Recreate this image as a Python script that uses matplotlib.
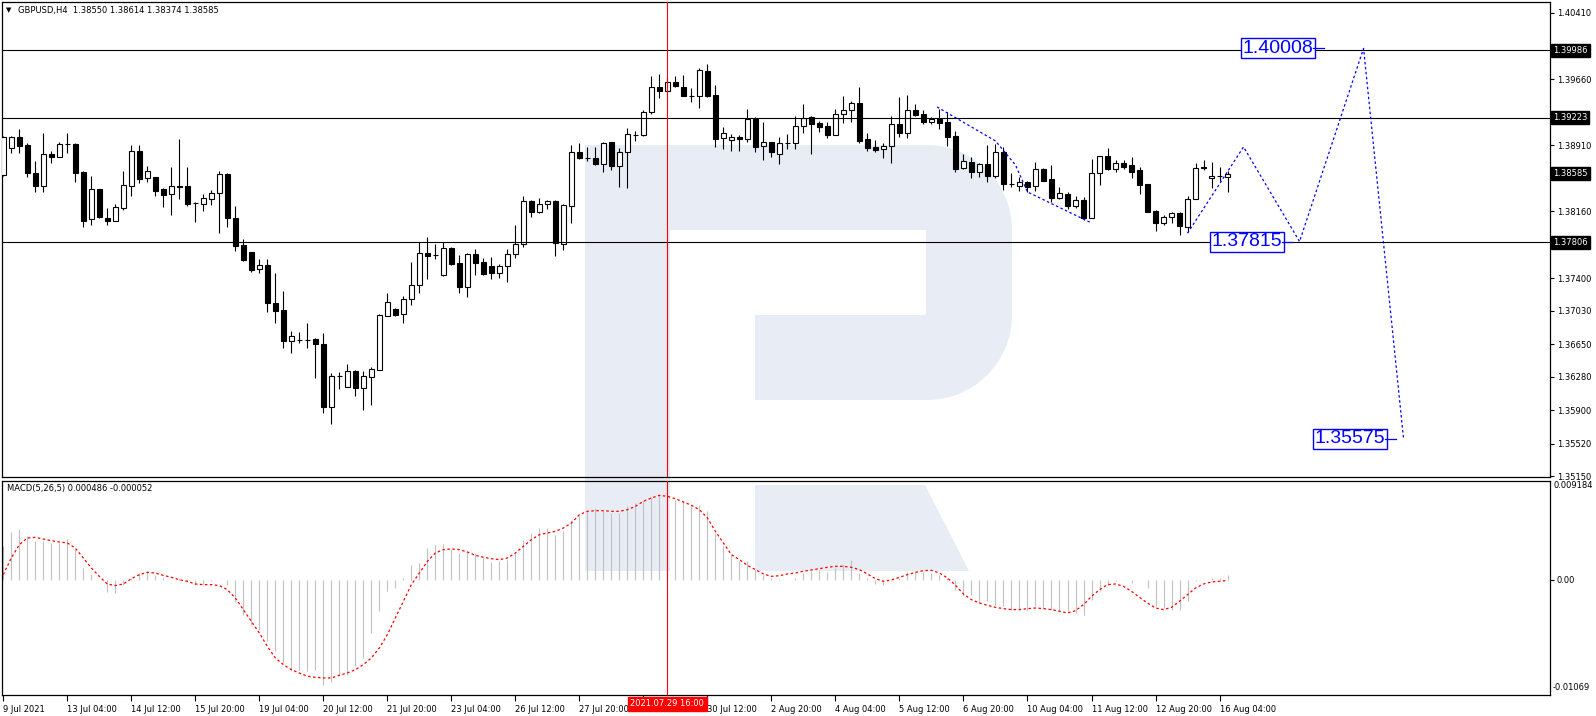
import numpy as np
import matplotlib
matplotlib.use("Agg")
import matplotlib.pyplot as plt
import matplotlib.patches as mpatches
from matplotlib.transforms import blended_transform_factory

plt.rcParams['font.family'] = ['DejaVu Sans']

# ---------------- data ----------------
symbol = "GBPUSD,H4"
header_ohlc = ["1.38550", "1.38614", "1.38374", "1.38585"]
macd_title = "MACD(5,26,5) 0.000486 -0.000052"

opens = [1.38571, 1.38874, 1.38999, 1.38911, 1.38590, 1.38449, 1.38806, 1.38772, 1.38923, 1.38923,
         1.38605, 1.38068, 1.38408, 1.38083, 1.38052, 1.38200, 1.38449, 1.38843, 1.38533, 1.38545,
         1.38412, 1.38352, 1.38442, 1.38442, 1.38250, 1.38238, 1.38302, 1.38363, 1.38582, 1.38079,
         1.37776, 1.37693, 1.37500, 1.37549, 1.37118, 1.37035, 1.36690, 1.36701, 1.36703, 1.36709,
         1.36649, 1.35934, 1.36293, 1.36168, 1.36346, 1.36150, 1.36282, 1.36357, 1.36974, 1.37050,
         1.36990, 1.37160, 1.37322, 1.37682, 1.37659, 1.37436, 1.37739, 1.37569, 1.37303, 1.37671,
         1.37580, 1.37538, 1.37462, 1.37538, 1.37671, 1.37784, 1.38276, 1.38154, 1.38238, 1.38276,
         1.37784, 1.38222, 1.38835, 1.38767, 1.38760, 1.38692, 1.38942, 1.38676, 1.38835, 1.39025,
         1.39025, 1.39282, 1.39573, 1.39528, 1.39630, 1.39573, 1.39471, 1.39471, 1.39751, 1.39479,
         1.38987, 1.38965, 1.39002, 1.38976, 1.39203, 1.38896, 1.38942, 1.38806, 1.38937, 1.38937,
         1.39123, 1.39229, 1.39161, 1.39127, 1.39021, 1.39260, 1.39308, 1.39385, 1.38976, 1.38889,
         1.38862, 1.38896, 1.39146, 1.39044, 1.39308, 1.39260, 1.39176, 1.39206, 1.39176, 1.39013,
         1.38647, 1.38715, 1.38601, 1.38692, 1.38563, 1.38828, 1.38465, 1.38446, 1.38495, 1.38446,
         1.38635, 1.38525, 1.38313, 1.38352, 1.38222, 1.38284, 1.38086, 1.38590, 1.38783, 1.38635,
         1.38704, 1.38684, 1.38627, 1.38469, 1.38162, 1.38029, 1.38097, 1.38136, 1.37984, 1.38295,
         1.38665, 1.38533, 1.38563, 1.38550]
highs = [1.39013, 1.39013, 1.39089, 1.38931, 1.38730, 1.39044, 1.38843, 1.38942, 1.39044, 1.38931,
         1.38613, 1.38559, 1.38408, 1.38193, 1.38238, 1.38616, 1.38911, 1.38911, 1.38673, 1.38545,
         1.38420, 1.38662, 1.38979, 1.38662, 1.38261, 1.38352, 1.38400, 1.38616, 1.38597, 1.38219,
         1.37841, 1.37700, 1.37614, 1.37614, 1.37458, 1.37254, 1.36800, 1.36785, 1.36891, 1.36717,
         1.36774, 1.36320, 1.36331, 1.36422, 1.36357, 1.36346, 1.36388, 1.36990, 1.37231, 1.37058,
         1.37201, 1.37587, 1.37807, 1.37867, 1.37784, 1.37807, 1.37750, 1.37663, 1.37682, 1.37731,
         1.37625, 1.37637, 1.37557, 1.37731, 1.38003, 1.38332, 1.38287, 1.38306, 1.38284, 1.38284,
         1.38242, 1.38911, 1.38931, 1.38885, 1.38885, 1.38942, 1.38942, 1.38881, 1.39101, 1.39074,
         1.39308, 1.39694, 1.39717, 1.39686, 1.39694, 1.39706, 1.39555, 1.39782, 1.39831, 1.39592,
         1.39116, 1.39033, 1.39025, 1.39320, 1.39232, 1.39169, 1.38942, 1.38999, 1.39033, 1.39240,
         1.39373, 1.39240, 1.39187, 1.39169, 1.39316, 1.39467, 1.39411, 1.39570, 1.39044, 1.38968,
         1.38931, 1.39240, 1.39456, 1.39479, 1.39377, 1.39308, 1.39232, 1.39316, 1.39289, 1.39070,
         1.38809, 1.38772, 1.38704, 1.38911, 1.38919, 1.38889, 1.38590, 1.38551, 1.38503, 1.38718,
         1.38647, 1.38684, 1.38431, 1.38374, 1.38329, 1.38324, 1.38752, 1.38783, 1.38874, 1.38741,
         1.38738, 1.38772, 1.38658, 1.38469, 1.38173, 1.38117, 1.38154, 1.38154, 1.38332, 1.38710,
         1.38741, 1.38715, 1.38658, 1.38614]
lows = [1.38559, 1.38824, 1.38824, 1.38551, 1.38381, 1.38381, 1.38710, 1.38772, 1.38817, 1.38495,
        1.37984, 1.38003, 1.38079, 1.38003, 1.38052, 1.38173, 1.38336, 1.38477, 1.38495, 1.38336,
        1.38211, 1.38117, 1.38295, 1.38219, 1.38041, 1.38166, 1.38230, 1.37909, 1.37984, 1.37712,
        1.37598, 1.37473, 1.37462, 1.37019, 1.36887, 1.36611, 1.36547, 1.36661, 1.36604, 1.36263,
        1.35866, 1.35741, 1.36138, 1.36168, 1.36066, 1.35903, 1.35960, 1.36357, 1.36974, 1.36970,
        1.36894, 1.37095, 1.37235, 1.37390, 1.37617, 1.37428, 1.37549, 1.37235, 1.37190, 1.37436,
        1.37436, 1.37390, 1.37405, 1.37360, 1.37632, 1.37757, 1.38097, 1.38143, 1.38181, 1.37655,
        1.37719, 1.38029, 1.38749, 1.38730, 1.38684, 1.38608, 1.38627, 1.38438, 1.38420, 1.38957,
        1.39013, 1.39260, 1.39448, 1.39528, 1.39573, 1.39471, 1.39403, 1.39328, 1.39459, 1.38892,
        1.38866, 1.38847, 1.38847, 1.38949, 1.38835, 1.38741, 1.38778, 1.38699, 1.38862, 1.38862,
        1.39051, 1.38809, 1.39062, 1.38994, 1.39021, 1.39164, 1.39176, 1.38931, 1.38847, 1.38835,
        1.38767, 1.38710, 1.39005, 1.38987, 1.39240, 1.39153, 1.39146, 1.39089, 1.38903, 1.38601,
        1.38635, 1.38540, 1.38551, 1.38495, 1.38540, 1.38401, 1.38438, 1.38389, 1.38374, 1.38389,
        1.38503, 1.38268, 1.38298, 1.38181, 1.38193, 1.38060, 1.38079, 1.38457, 1.38624, 1.38608,
        1.38635, 1.38540, 1.38355, 1.38154, 1.37935, 1.38003, 1.38029, 1.37890, 1.37927, 1.38295,
        1.38627, 1.38420, 1.38506, 1.38374]
closes = [1.38999, 1.38999, 1.38903, 1.38590, 1.38449, 1.38809, 1.38772, 1.38919, 1.38925, 1.38597,
          1.38052, 1.38408, 1.38097, 1.38052, 1.38204, 1.38454, 1.38843, 1.38525, 1.38616, 1.38393,
          1.38347, 1.38442, 1.38440, 1.38245, 1.38248, 1.38306, 1.38363, 1.38579, 1.38079, 1.37768,
          1.37606, 1.37492, 1.37549, 1.37115, 1.37031, 1.36690, 1.36747, 1.36703, 1.36701, 1.36649,
          1.35941, 1.36293, 1.36290, 1.36346, 1.36150, 1.36289, 1.36369, 1.36982, 1.37126, 1.36982,
          1.37163, 1.37322, 1.37682, 1.37655, 1.37657, 1.37739, 1.37561, 1.37303, 1.37671, 1.37575,
          1.37447, 1.37462, 1.37538, 1.37671, 1.37784, 1.38276, 1.38154, 1.38238, 1.38276, 1.37796,
          1.38230, 1.38835, 1.38767, 1.38765, 1.38692, 1.38931, 1.38676, 1.38835, 1.39033, 1.39027,
          1.39282, 1.39573, 1.39528, 1.39630, 1.39584, 1.39471, 1.39469, 1.39759, 1.39464, 1.38976,
          1.39044, 1.39002, 1.38976, 1.39203, 1.38892, 1.38942, 1.38835, 1.38931, 1.38939, 1.39127,
          1.39214, 1.39153, 1.39119, 1.39021, 1.39260, 1.39308, 1.39385, 1.38960, 1.38881, 1.38858,
          1.38900, 1.39146, 1.39051, 1.39308, 1.39252, 1.39176, 1.39206, 1.39164, 1.39005, 1.38642,
          1.38730, 1.38601, 1.38692, 1.38563, 1.38828, 1.38465, 1.38463, 1.38495, 1.38438, 1.38635,
          1.38506, 1.38313, 1.38363, 1.38222, 1.38284, 1.38079, 1.38590, 1.38783, 1.38635, 1.38704,
          1.38665, 1.38608, 1.38457, 1.38154, 1.38029, 1.38097, 1.38136, 1.37995, 1.38295, 1.38654,
          1.38647, 1.38563, 1.38561, 1.38585]

# MACD values in units of 1e-4
macd_main_e4 = [31.2, 44.5, 47.6, 40.5, 35.8, 35.8, 34.3, 34.3, 38.0, 29.0,
                11.1, 5.8, 0.2, -11.2, -12.1, -5.0, 1.8, 6.4, 8.6, 4.9,
                1.8, 0.2, 1.8, -1.9, -4.4, -3.8, -1.3, 0.2, -4.4, -20.5,
                -32.3, -41.6, -46.2, -57.1, -66.4, -77.2, -83.4, -83.4, -84.9, -83.4,
                -97.3, -94.8, -88.0, -88.0, -80.3, -72.5, -49.3, -29.2, -10.6, -7.5,
                1.8, 14.1, 15.7, 29.6, 32.7, 33.3, 28.1, 25.0, 27.2, 25.0,
                20.4, 16.6, 17.2, 18.8, 25.0, 37.4, 43.6, 48.2, 48.2, 42.0,
                45.1, 55.9, 60.6, 65.2, 66.8, 63.7, 62.1, 62.1, 68.3, 71.4,
                73.0, 76.7, 79.2, 74.5, 74.5, 73.0, 68.3, 69.9, 63.7, 43.6,
                31.2, 23.4, 17.2, 17.2, 9.5, 4.9, 1.8, 0.8, 0.2, 1.8,
                6.4, 8.0, 9.5, 7.3, 11.1, 14.8, 18.8, 6.4, 1.8, -3.8,
                -5.0, -1.3, 1.8, 7.3, 8.0, 7.3, 6.4, 4.9, 1.8, -9.1,
                -15.3, -13.7, -21.5, -19.9, -23.0, -24.6, -27.6, -27.6, -28.6, -24.6,
                -26.1, -27.6, -29.2, -29.2, -30.7, -32.3, -18.4, -10.6, -4.4, -1.3,
                0.2, -2.9, 0.2, -7.5, -24.6, -26.1, -27.6, -27.6, -19.9, -1.3,
                0.2, 1.8, 1.8, 4.86]
macd_signal_e4 = [4.9, 20.3, 32.7, 38.9, 39.5, 38.0, 36.4, 35.2, 34.3, 29.6,
                  20.3, 11.1, 3.3, -3.8, -5.3, -3.8, 1.1, 4.9, 7.0, 6.4,
                  4.2, 2.4, 0.2, -1.3, -3.8, -4.4, -4.4, -5.3, -9.1, -16.8,
                  -27.6, -38.5, -49.3, -61.7, -72.5, -78.7, -83.4, -86.4, -89.5, -90.5,
                  -91.1, -91.1, -88.6, -86.4, -83.4, -78.7, -72.5, -63.2, -50.8, -35.4,
                  -19.9, -4.4, 6.4, 17.2, 25.0, 28.1, 28.7, 28.1, 25.9, 22.8,
                  21.0, 19.7, 18.8, 20.3, 25.0, 31.2, 37.4, 42.0, 43.6, 45.1,
                  48.2, 52.8, 60.6, 63.7, 64.3, 64.3, 63.7, 63.7, 65.2, 68.3,
                  73.0, 76.1, 78.5, 77.6, 75.4, 72.3, 69.3, 65.2, 57.5, 45.1,
                  34.3, 23.4, 18.8, 13.5, 9.5, 5.5, 3.3, 3.9, 5.5, 6.4,
                  8.0, 9.2, 10.4, 11.7, 12.6, 12.6, 11.7, 9.5, 5.5, 1.1,
                  -1.3, -0.1, 2.4, 4.9, 7.0, 8.6, 8.9, 6.4, 1.8, -5.0,
                  -13.1, -18.4, -21.5, -23.6, -25.5, -26.7, -27.6, -27.6, -26.7, -26.1,
                  -26.7, -27.6, -29.2, -30.7, -28.6, -23.0, -15.3, -9.1, -4.4, -3.8,
                  -6.0, -10.6, -16.2, -21.5, -26.1, -27.6, -25.5, -19.9, -13.7, -7.5,
                  -3.8, -1.9, -1.3, -0.52]

# the label at bar 80 is covered by the cursor date box in the reference
date_labels = ["9 Jul 2021", "13 Jul 04:00", "14 Jul 12:00", "15 Jul 20:00", "19 Jul 04:00",
               "20 Jul 12:00", "21 Jul 20:00", "23 Jul 04:00", "26 Jul 12:00", "27 Jul 20:00",
               "", "30 Jul 12:00", "2 Aug 20:00", "4 Aug 04:00", "5 Aug 12:00",
               "6 Aug 20:00", "10 Aug 04:00", "11 Aug 12:00", "12 Aug 20:00", "16 Aug 04:00"]
date_label_bars = [0, 8, 16, 24, 32, 40, 48, 56, 64, 72, 80, 88, 96, 104, 112, 120, 128, 136, 144, 152]

price_ticks = [1.40410, 1.40040, 1.39660, 1.39290, 1.38910, 1.38530, 1.38160, 1.37780,
               1.37400, 1.37030, 1.36650, 1.36280, 1.35900, 1.35520, 1.35150]
# tick labels hidden behind the black price boxes in the reference
hidden_tick_labels = [1.40040, 1.39290, 1.38530, 1.37780]
level_lines = [1.39986, 1.39223, 1.37806]
current_price = 1.38585
cursor_bar = 83
cursor_label = "2021.07.29 16:00"

forecast_bars = [148, 155, 162, 170, 175]
forecast_prices = [1.37910, 1.38889, 1.37815, 1.40008, 1.35575]
target_prices = [1.40008, 1.37815, 1.35575]
old_path_bars = [116.7, 124, 126.5, 128, 136]
old_path_prices = [1.39343, 1.38957, 1.38684, 1.38378, 1.38026]

macd_top, macd_bottom = 0.009184, -0.01069
price_top, price_bottom = 1.40534, 1.35143

# ---------------- layout ----------------
W, H, DPI = 1596, 716, 100
fig = plt.figure(figsize=(W / DPI, H / DPI), dpi=DPI, facecolor="white")


def fx(px):
    return px / W


def fy(py):
    return 1 - py / H


PL, PR = 2, 1550
ax = fig.add_axes([fx(PL), fy(477), (PR - PL) / W, (477 - 2) / H])
ax2 = fig.add_axes([fx(PL), fy(695), (PR - PL) / W, (695 - 481) / H], sharex=ax)
for a in (ax, ax2):
    a.set_facecolor("none")
    for s in a.spines.values():
        s.set_linewidth(0.9)
        s.set_color("black")

# watermark (figure pixels)
WM = "#E7ECF5"


def arc(cx, cy, r, a0, a1, n=24):
    t = np.radians(np.linspace(a0, a1, n))
    return list(zip(cx + r * np.cos(t), cy + r * np.sin(t)))


outer = [(585, 145), (927, 145)] + arc(927, 230, 85, -90, 0) + [(1012, 315)] + \
        arc(927, 315, 85, 0, 90) + [(755, 400), (755, 315), (926, 315), (926, 230),
                                    (670, 230), (670, 571), (585, 571)]
leg = [(755, 485), (925, 485), (969, 571), (755, 571)]
for poly in (outer, leg):
    pts = [(fx(px), fy(py)) for px, py in poly]
    fig.patches.append(mpatches.Polygon(pts, closed=True, transform=fig.transFigure,
                                        facecolor=WM, edgecolor="none", zorder=-5))

n = len(opens)
x = np.arange(n)
o = np.array(opens); h = np.array(highs); l = np.array(lows); c = np.array(closes)
up = c >= o
bottom = np.minimum(o, c)
height = np.abs(c - o)

ax.vlines(x, l, h, color="black", lw=0.8, zorder=2)
ax.bar(x[up], height[up], bottom=bottom[up], width=0.6, facecolor="white",
       edgecolor="black", linewidth=0.8, zorder=3)
ax.bar(x[~up], height[~up], bottom=bottom[~up], width=0.6, facecolor="black",
       edgecolor="black", linewidth=0.8, zorder=3)

for v in level_lines:
    ax.axhline(v, color="black", lw=0.8, zorder=4)

ax.axvline(cursor_bar, color="red", lw=0.8, zorder=5)
ax2.axvline(cursor_bar, color="red", lw=0.8, zorder=5)

# forecast
blue = "#0000FF"
ax.plot(forecast_bars, forecast_prices, color=blue, lw=0.9, ls=(0, (2, 2)), zorder=6)
ax.plot(old_path_bars, old_path_prices, color=blue, lw=0.9, ls=(0, (2, 2)), zorder=6)
box_right = [163.7, 159.8, 172.7]
for xr, p in zip(box_right, target_prices):
    ax.text(xr, p, f"{p:.5f}", ha="right", va="center", fontsize=14, color=blue,
            family="Liberation Sans", zorder=7,
            bbox=dict(boxstyle="square,pad=0.08", facecolor="white", edgecolor=blue, linewidth=1))
    ax.plot([xr, xr + 1.3], [p, p], color=blue, lw=0.9, zorder=7)

ax.set_xlim(-0.16, 193.3)
ax.set_ylim(price_bottom, price_top)
ax.yaxis.tick_right()
ax.set_yticks(price_ticks)
ax.set_yticklabels(["" if t in hidden_tick_labels else f"{t:.5f}" for t in price_ticks])
ax.tick_params(axis="y", direction="out", length=3, width=0.8, pad=2, labelsize=6)
ax.tick_params(axis="x", bottom=False, labelbottom=False)

tr = blended_transform_factory(fig.transFigure, ax.transData)
for p in level_lines + [current_price]:
    ax.text(fx(1553), p, f"{p:.5f}", transform=tr, ha="left", va="center", fontsize=6,
            color="white", zorder=10, clip_on=False,
            bbox=dict(boxstyle="square,pad=0.25", facecolor="black", edgecolor="black"))

# MACD panel
hist = np.array(macd_main_e4) * 1e-4
sig = np.array(macd_signal_e4) * 1e-4
ax2.vlines(x, 0, hist, color="#C0C0C0", lw=0.8, zorder=2)
ax2.plot(x, sig, color="red", lw=0.9, ls=(0, (2, 2)), zorder=3)
ax2.set_ylim(macd_bottom, macd_top)
ax2.yaxis.tick_right()
ax2.set_yticks([0.0])
ax2.set_yticklabels(["0.00"])
ax2.tick_params(axis="y", direction="out", length=3, width=0.8, pad=2, labelsize=6)
ax2.text(fx(1553), fy(486), f"{macd_top:.6f}", transform=fig.transFigure, ha="left",
         va="center", fontsize=6)
ax2.text(fx(1553), fy(688), f"{macd_bottom:.5f}", transform=fig.transFigure, ha="left",
         va="center", fontsize=6)

ax2.set_xticks(date_label_bars)
ax2.set_xticklabels(date_labels, ha="left")
ax2.tick_params(axis="x", direction="out", length=4, width=0.8, pad=3, labelsize=6)

trx = blended_transform_factory(ax2.transData, fig.transFigure)
ax2.text(cursor_bar, fy(704), cursor_label, transform=trx, ha="center", va="center",
         fontsize=6, color="white", zorder=10, clip_on=False,
         bbox=dict(boxstyle="square,pad=0.3", facecolor="red", edgecolor="red"))

# header texts
fig.text(fx(6), fy(10), "\u25BC", fontsize=5, va="center", ha="left")
fig.text(fx(18), fy(10), symbol + "  " + " ".join(header_ohlc), fontsize=6, va="center", ha="left")
fig.text(fx(7), fy(489), macd_title, fontsize=6, va="center", ha="left")

fig.savefig("out.png", dpi=DPI, facecolor="white")
